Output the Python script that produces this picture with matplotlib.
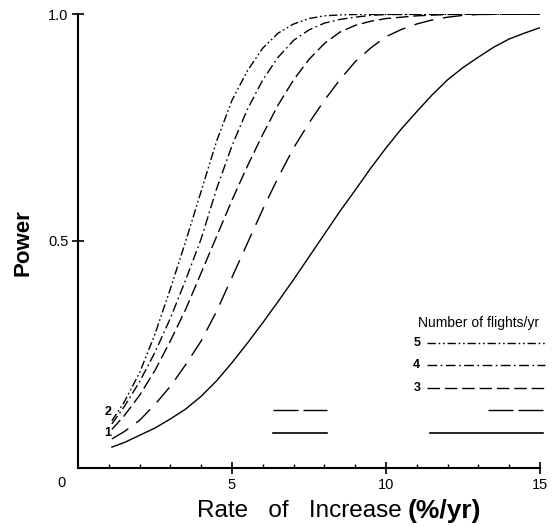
import matplotlib
matplotlib.use("Agg")
from matplotlib import pyplot as plt

plt.rcParams['font.family'] = ['Liberation Sans', 'DejaVu Sans']

# power curves, one per number of flights per year
x1 = [1.1, 1.5, 2, 2.5, 3, 3.5, 4, 4.5, 5, 5.5, 6, 6.5, 7, 7.5, 8, 8.5, 9, 9.5, 10, 10.5, 11, 11.5,
      12, 12.5, 13, 13.5, 14, 14.5, 15]
y1 = [0.046, 0.056, 0.072, 0.088, 0.108, 0.13, 0.158, 0.192, 0.232, 0.275, 0.32, 0.367, 0.415, 0.465,
      0.515, 0.565, 0.612, 0.66, 0.705, 0.747, 0.785, 0.822, 0.855, 0.882, 0.905, 0.927, 0.945, 0.958, 0.97]

x2 = [1.1, 1.5, 2, 2.5, 3, 3.5, 4, 4.5, 5, 5.5, 6, 6.5, 7, 7.5, 8, 8.5, 9, 9.5, 10, 10.5, 11, 11.5,
      12, 12.5, 13, 15]
y2 = [0.064, 0.08, 0.105, 0.14, 0.18, 0.228, 0.28, 0.345, 0.42, 0.495, 0.57, 0.64, 0.705, 0.76, 0.81,
      0.855, 0.895, 0.925, 0.95, 0.966, 0.978, 0.987, 0.993, 0.997, 0.999, 1.0]

x3 = [1.1, 1.5, 2, 2.5, 3, 3.5, 4, 4.5, 5, 5.5, 6, 6.5, 7, 7.5, 8, 8.5, 9, 9.5, 10, 11, 12, 13, 15]
y3 = [0.085, 0.115, 0.16, 0.215, 0.28, 0.35, 0.43, 0.51, 0.59, 0.665, 0.735, 0.8, 0.855, 0.9, 0.935, 0.96,
      0.975, 0.984, 0.99, 0.996, 0.999, 1.0, 1.0]

x4 = [1.1, 1.5, 2, 2.5, 3, 3.5, 4, 4.5, 5, 5.5, 6, 6.5, 7, 7.5, 8, 8.5, 9, 9.5, 10, 15]
y4 = [0.097, 0.135, 0.19, 0.255, 0.33, 0.415, 0.505, 0.615, 0.71, 0.79, 0.855, 0.905, 0.942, 0.965, 0.98,
      0.988, 0.993, 0.997, 0.999, 1.0]

x5 = [1.1, 1.5, 2, 2.5, 3, 3.5, 4, 4.5, 5, 5.5, 6, 6.5, 7, 7.5, 8, 8.5, 9, 15]
y5 = [0.104, 0.145, 0.21, 0.295, 0.395, 0.5, 0.61, 0.72, 0.81, 0.875, 0.925, 0.958, 0.978, 0.99, 0.996,
      0.998, 0.999, 1.0]

xticks = [5, 10, 15]
yticks = [0.5, 1.0]
ytick_labels = ["0.5", "1.0"]

# dash patterns
dash2 = (14, 7)
dash3 = (9, 3.5)
dash4 = (7, 2.5, 1.2, 2.5)
dash5 = (6, 2, 1.2, 2, 1.2, 2)

fig = plt.figure(figsize=(5.54, 5.27), dpi=100)
ax = fig.add_axes([0.1408, 0.112, 0.8339, 0.8614])

ax.plot(x1, y1, color="black", lw=1.0)
ax.plot(x2, y2, color="black", lw=1.0, dashes=dash2)
ax.plot(x3, y3, color="black", lw=1.0, dashes=dash3)
ax.plot(x4, y4, color="black", lw=1.0, dashes=dash4)
ax.plot(x5, y5, color="black", lw=1.0, dashes=dash5)

ax.set_xlim(0, 15)
ax.set_ylim(0, 1)
ax.spines["top"].set_visible(False)
ax.spines["right"].set_visible(False)
ax.spines["left"].set_linewidth(1.5)
ax.spines["bottom"].set_linewidth(1.5)

ax.set_xticks(xticks)
ax.set_xticks(range(1, 15), minor=True)
ax.set_yticks(yticks)
ax.set_yticklabels(ytick_labels)
ax.tick_params(axis="both", which="major", direction="inout", length=8, width=1.2, labelsize=10.5, pad=3)
ax.tick_params(axis="x", which="minor", direction="in", length=3, width=1.0)
ax.text(-0.52, -0.033, "0", ha="center", va="center", fontsize=10.5)

# legend, drawn by hand like the original
ax.text(13.0, 0.319, "Number of flights/yr", ha="center", va="center", fontsize=10)
rows = [("5", 0.275, dash5), ("4", 0.227, dash4), ("3", 0.176, dash3)]
for lab, yy, ds in rows:
    ax.text(11.0, yy, lab, ha="center", va="center", fontsize=9, fontweight="bold")
    ax.plot([11.33, 15.16], [yy, yy], color="black", lw=1.0, dashes=ds, clip_on=False)

ax.plot([13.31, 15.1], [0.128, 0.128], color="black", lw=1.0, dashes=(18, 3.6), clip_on=False)
ax.plot([6.33, 8.08], [0.128, 0.128], color="black", lw=1.0, dashes=(18, 3.6))
ax.plot([11.43, 15.1], [0.077, 0.077], color="black", lw=1.2, clip_on=False)
ax.plot([6.33, 8.08], [0.077, 0.077], color="black", lw=1.2)
ax.text(0.97, 0.123, "2", ha="center", va="center", fontsize=9, fontweight="bold")
ax.text(0.97, 0.077, "1", ha="center", va="center", fontsize=9, fontweight="bold")

fig.text(0.0415, 0.539, "Power", rotation=90, ha="center", va="center", fontsize=16, fontweight="bold")
fig.text(0.726, 0.030, "Rate   of   Increase", ha="right", va="center", fontsize=17.5)
fig.text(0.736, 0.030, "(%/yr)", ha="left", va="center", fontsize=19, fontweight="bold")

fig.savefig("out.png", dpi=100)
